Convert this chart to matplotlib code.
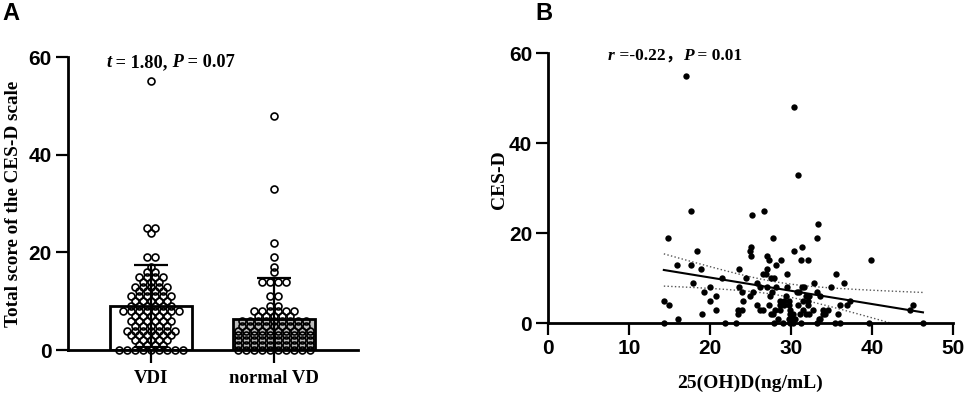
import numpy as np
import matplotlib
matplotlib.use("Agg")
import matplotlib.pyplot as plt
from matplotlib.offsetbox import TextArea, HPacker, AnnotationBbox

# ---- panel A: CES-D total score by vitamin D group ----
groups = ["VDI", "normal VD"]
group_means = [9.0, 6.4]
group_sds = [8.4, 8.3]
bar_colors = ["white", "#bdbdbd"]

# score value -> how many subjects at that value (read row by row)
vdi_levels = [0, 1, 2, 3, 4, 5, 6, 7, 8, 9, 10, 11, 12, 13, 14, 15, 16, 17, 19, 24, 25, 55]
vdi_counts = [9, 4, 5, 6, 7, 5, 6, 5, 8, 6, 5, 6, 4, 5, 3, 4, 2, 1, 2, 1, 2, 1]
nvd_levels = [0, 1, 2, 3, 4, 5, 6, 7, 8, 9, 11, 14, 16, 17, 19, 22, 33, 48]
nvd_counts = [10, 10, 10, 10, 10, 9, 9, 5, 6, 2, 2, 4, 1, 1, 1, 1, 1, 1]

# ---- panel B: 25(OH)D vs CES-D ----
vd_conc = [17.0, 30.4, 30.9, 17.6, 26.7, 25.2, 33.3, 14.8, 27.8, 33.2,
           25.1, 31.4, 18.4, 24.9, 30.4, 25.1, 27.0, 27.3, 28.8, 31.2,
           32.1, 39.9, 15.9, 17.6, 28.2, 18.9, 23.6, 27.0, 26.5, 26.9,
           29.5, 35.6, 21.5, 24.4, 27.5, 27.9, 17.9, 25.8, 32.9, 36.6,
           20.0, 23.6, 26.2, 27.0, 28.2, 29.5, 31.4, 31.6, 34.9, 19.3,
           23.9, 25.3, 27.6, 30.7, 31.0, 33.2, 20.7, 24.9, 27.4, 29.4,
           31.8, 32.2, 33.6, 14.3, 20.0, 24.1, 28.6, 29.2, 29.7, 31.5,
           32.1, 37.3, 14.9, 25.8, 27.3, 28.6, 29.1, 29.7, 30.9, 32.1,
           36.0, 36.9, 45.1, 20.7, 23.5, 24.0, 26.2, 26.6, 28.0, 28.6,
           29.9, 31.5, 32.7, 34.0, 34.6, 44.7, 19.0, 23.4, 27.5, 27.8,
           29.9, 30.3, 31.1, 31.8, 32.2, 33.9, 34.2, 35.8, 16.1, 28.4,
           29.7, 29.9, 30.1, 30.5, 33.5, 33.6, 14.3, 21.9, 23.2, 27.9,
           29.0, 29.9, 30.3, 31.3, 33.2, 35.4, 36.0, 39.6, 46.3]
cesd = [55, 48, 33, 25, 25, 24, 22, 19, 19, 19,
        17, 17, 16, 16, 16, 15, 15, 14, 14, 14,
        14, 14, 13, 13, 13, 12, 12, 12, 11, 11,
        11, 11, 10, 10, 10, 10, 9, 9, 9, 9,
        8, 8, 8, 8, 8, 8, 8, 8, 8, 7,
        7, 7, 7, 7, 7, 7, 6, 6, 6, 6,
        6, 6, 6, 5, 5, 5, 5, 5, 5, 5,
        5, 5, 4, 4, 4, 4, 4, 4, 4, 4,
        4, 4, 4, 3, 3, 3, 3, 3, 3, 3,
        3, 3, 3, 3, 3, 3, 2, 2, 2, 2,
        2, 2, 2, 2, 2, 2, 2, 2, 1, 1,
        1, 1, 1, 1, 1, 1, 0, 0, 0, 0,
        0, 0, 0, 0, 0, 0, 0, 0, 0]

SERIF = "Liberation Serif"
SANS = "Liberation Sans"


def row_swarm(levels, counts, step):
    # points of equal score side by side, centred on the bar
    xs, ys = [], []
    for v, n in zip(levels, counts):
        xs.extend((np.arange(n) - (n - 1) / 2) * step)
        ys.extend([v] * n)
    return np.array(xs), np.array(ys)


def stat_label(ax, parts, x, y, size=12.5):
    boxes = [TextArea(t, textprops=dict(family=[SERIF, "Noto Sans CJK SC"], weight="bold",
                                        style=s, size=size))
             for t, s in parts]
    pack = HPacker(children=boxes, align="baseline", pad=0, sep=0)
    ab = AnnotationBbox(pack, (x, y), xycoords="axes fraction", box_alignment=(0, 0.5),
                        frameon=False)
    ax.add_artist(ab)


def style_axes(ax):
    for s in ["top", "right"]:
        ax.spines[s].set_visible(False)
    for s in ["left", "bottom"]:
        ax.spines[s].set_linewidth(2)
    ax.tick_params(direction="out", length=8.5, width=1.6, pad=3)


fig = plt.figure(figsize=(9.64, 3.96), dpi=100)

# ---------- A ----------
axA = fig.add_axes([0.0705, 0.116, 0.301, 0.74])
axA.set_xlim(-0.675, 1.683)
axA.set_ylim(0, 60)
sx = axA.bbox.width / (1.683 + 0.675)   # pixels per category unit
xpos = np.arange(len(groups))
axA.bar(xpos, group_means, width=0.66, color=bar_colors, edgecolor="black",
        linewidth=2, zorder=1)
for i, (lv, ct) in enumerate([(vdi_levels, vdi_counts), (nvd_levels, nvd_counts)]):
    dx, yy = row_swarm(lv, ct, 8.0 / sx)
    axA.plot(i + dx, yy, "o", ms=5.0, mfc="none", mec="black", mew=1.2,
             clip_on=False, zorder=2)
axA.errorbar(xpos, group_means, yerr=group_sds, fmt="none", ecolor="black",
             elinewidth=1.6, capsize=12.5, capthick=1.6, zorder=3)
axA.set_yticks([0, 20, 40, 60])
axA.set_xticks(xpos)
axA.set_xticklabels(groups, family=SERIF, weight="bold", size=13.5)
for lab in axA.get_yticklabels():
    lab.set_family(SANS)
    lab.set_weight("bold")
    lab.set_size(15)
style_axes(axA)
axA.tick_params(axis="x", length=9, pad=5)
axA.set_ylabel("Total score of the CES-D scale", family=SERIF, weight="bold", size=13.8)
axA.yaxis.set_label_coords(-0.16, 0.5)
stat_label(axA, [("t", "italic"), (" = 1.80,", "normal"), (" P", "italic"),
                 (" = 0.07", "normal")], 0.131, 0.98, size=13.2)

# ---------- B ----------
axB = fig.add_axes([0.5685, 0.184, 0.42, 0.682])
xv = np.array(vd_conc)
yv = np.array(cesd)
axB.scatter(xv, yv, s=21, color="black", linewidths=0, clip_on=False, zorder=3)

# linear fit with 95% confidence band of the mean
slope, icpt = np.polyfit(xv, yv, 1)
n = len(xv)
resid = yv - (slope * xv + icpt)
s_err = np.sqrt(np.sum(resid ** 2) / (n - 2))
xx = np.linspace(xv.min(), xv.max(), 100)
yy = slope * xx + icpt
se = s_err * np.sqrt(1 / n + (xx - xv.mean()) ** 2 / np.sum((xv - xv.mean()) ** 2))
axB.plot(xx, yy, color="black", lw=1.5, zorder=2)
axB.plot(xx, yy + 1.98 * se, color="#555555", lw=1, ls=":", zorder=2)
axB.plot(xx, yy - 1.98 * se, color="#555555", lw=1, ls=":", zorder=2)

axB.set_xlim(0, 50)
axB.set_ylim(0, 60)
axB.set_xticks([0, 10, 20, 30, 40, 50])
axB.set_yticks([0, 20, 40, 60])
for lab in axB.get_xticklabels() + axB.get_yticklabels():
    lab.set_family(SANS)
    lab.set_weight("bold")
    lab.set_size(15)
style_axes(axB)
axB.set_xlabel("25(OH)D(ng/mL)", family=SERIF, weight="bold", size=14)
axB.xaxis.set_label_coords(0.5, -0.19)
axB.set_ylabel("CES-D", family=SERIF, weight="bold", size=14)
axB.yaxis.set_label_coords(-0.10, 0.53)
stat_label(axB, [("r", "italic"), (" =-0.22\uff0c", "normal"), ("P", "italic"),
                 (" = 0.01", "normal")], 0.148, 0.99)

fig.text(0.002, 0.995, "A", family=SANS, weight="bold", size=17, va="top")
fig.text(0.555, 0.995, "B", family=SANS, weight="bold", size=17, va="top")

fig.savefig("out.png", dpi=100)
